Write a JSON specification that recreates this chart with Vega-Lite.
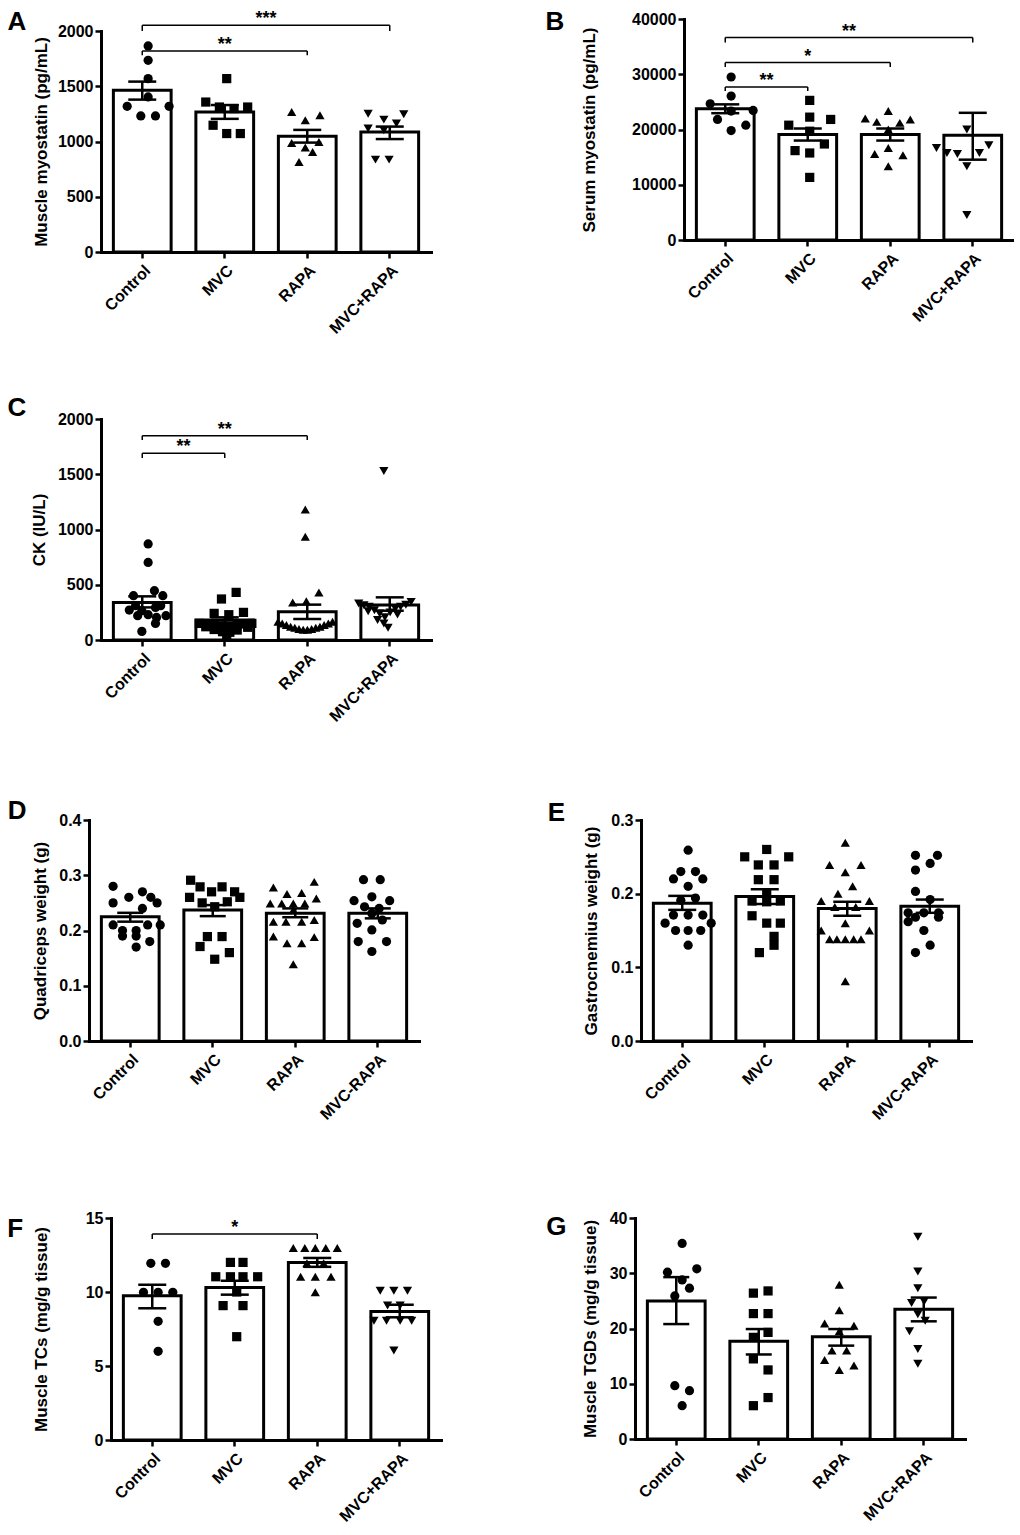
{
  "$schema": "https://vega.github.io/schema/vega-lite/v6.json",
  "padding": {"left": 6, "top": 8, "right": 0, "bottom": 0},
  "background": "white",
  "config": {
    "font": "Liberation Sans",
    "view": {"stroke": null},
    "scale": {"bandPaddingInner": 0.3, "bandPaddingOuter": 0.15},
    "range": {"symbol": ["circle", "square", "triangle-up", "triangle-down"]},
    "axis": {
      "grid": false, "domainColor": "black", "domainWidth": 3, "domainCap": "square",
      "tickColor": "black", "tickWidth": 2.5, "tickSize": 6,
      "labelColor": "black", "labelFont": "Liberation Sans", "labelFontSize": 16, "labelFontWeight": "bold",
      "titleColor": "black", "titleFont": "Liberation Sans", "titleFontSize": 17, "titleFontWeight": "bold"
    },
    "axisX": {"labelAngle": -45, "labelPadding": 4},
    "axisY": {"labelPadding": 2},
    "title": {"anchor": "start", "frame": "bounds", "font": "Liberation Sans", "fontSize": 26, "fontWeight": "bold", "color": "black", "offset": 0}
  },
  "datasets": {
    "A_pts": [
      {"g": "Control", "j": 0, "v": 1865}, {"g": "Control", "j": 0, "v": 1735}, {"g": "Control", "j": 0, "v": 1569}, {"g": "Control", "j": 0, "v": 1403},
      {"g": "Control", "j": -2, "v": 1318}, {"g": "Control", "j": 2, "v": 1318}, {"g": "Control", "j": -0.7, "v": 1231}, {"g": "Control", "j": 0.7, "v": 1231},
      {"g": "MVC", "j": 0, "v": 1569}, {"g": "MVC", "j": -2, "v": 1357}, {"g": "MVC", "j": -0.7, "v": 1312}, {"g": "MVC", "j": 0.7, "v": 1298},
      {"g": "MVC", "j": 2, "v": 1312}, {"g": "MVC", "j": -1.3, "v": 1147}, {"g": "MVC", "j": 0, "v": 1072}, {"g": "MVC", "j": 1.3, "v": 1072},
      {"g": "RAPA", "j": -1.3, "v": 1267}, {"g": "RAPA", "j": 0, "v": 1192}, {"g": "RAPA", "j": 1.4, "v": 1237}, {"g": "RAPA", "j": -1.3, "v": 987},
      {"g": "RAPA", "j": 1.3, "v": 995}, {"g": "RAPA", "j": 0, "v": 945}, {"g": "RAPA", "j": 0.7, "v": 905}, {"g": "RAPA", "j": -0.6, "v": 815},
      {"g": "MVC+RAPA", "j": -1.5, "v": 1252}, {"g": "MVC+RAPA", "j": 0, "v": 1198}, {"g": "MVC+RAPA", "j": 1.9, "v": 1246}, {"g": "MVC+RAPA", "j": -1.5, "v": 1117},
      {"g": "MVC+RAPA", "j": 1.2, "v": 1162}, {"g": "MVC+RAPA", "j": 0, "v": 1101}, {"g": "MVC+RAPA", "j": -0.8, "v": 836}, {"g": "MVC+RAPA", "j": 0.5, "v": 836}
    ],
    "A_sum": [
      {"g": "Control", "v": 1463, "lo": 1379, "hi": 1542}, {"g": "MVC", "v": 1267, "lo": 1205, "hi": 1330},
      {"g": "RAPA", "v": 1047, "lo": 990, "hi": 1105}, {"g": "MVC+RAPA", "v": 1086, "lo": 1022, "hi": 1135}
    ],
    "A_br": [
      {"from": "Control", "to": "MVC+RAPA", "v": 2051, "vb": 2000, "label": "***"},
      {"from": "Control", "to": "RAPA", "v": 1819, "vb": 1780, "label": "**"}
    ],
    "B_pts": [
      {"g": "Control", "j": 0, "v": 29500}, {"g": "Control", "j": 0, "v": 26050}, {"g": "Control", "j": -2, "v": 24660}, {"g": "Control", "j": 2.1, "v": 23450},
      {"g": "Control", "j": 0, "v": 23330}, {"g": "Control", "j": -1.3, "v": 21820}, {"g": "Control", "j": 1.4, "v": 20780}, {"g": "Control", "j": 0, "v": 19800},
      {"g": "MVC", "j": 0, "v": 25270}, {"g": "MVC", "j": 0, "v": 22240}, {"g": "MVC", "j": 2, "v": 21820}, {"g": "MVC", "j": -2, "v": 20780},
      {"g": "MVC", "j": 0, "v": 19690}, {"g": "MVC", "j": 1.4, "v": 17380}, {"g": "MVC", "j": -1.4, "v": 16180}, {"g": "MVC", "j": 0, "v": 15750},
      {"g": "MVC", "j": 0, "v": 11330},
      {"g": "RAPA", "j": -2.2, "v": 22000}, {"g": "RAPA", "j": -1.1, "v": 21380}, {"g": "RAPA", "j": 0, "v": 23330}, {"g": "RAPA", "j": 1.1, "v": 21200},
      {"g": "RAPA", "j": 2.1, "v": 21820}, {"g": "RAPA", "j": 0, "v": 20000}, {"g": "RAPA", "j": -1.3, "v": 15560}, {"g": "RAPA", "j": 0, "v": 16650},
      {"g": "RAPA", "j": 1.4, "v": 15330}, {"g": "RAPA", "j": 0, "v": 13330},
      {"g": "MVC+RAPA", "j": 0, "v": 20000}, {"g": "MVC+RAPA", "j": -2.9, "v": 16650}, {"g": "MVC+RAPA", "j": -1.9, "v": 15750}, {"g": "MVC+RAPA", "j": -0.9, "v": 15560},
      {"g": "MVC+RAPA", "j": 1.2, "v": 15750}, {"g": "MVC+RAPA", "j": 2.1, "v": 17150}, {"g": "MVC+RAPA", "j": 0, "v": 13330}, {"g": "MVC+RAPA", "j": 0, "v": 4545}
    ],
    "B_sum": [
      {"g": "Control", "v": 23750, "lo": 22950, "hi": 24550}, {"g": "MVC", "v": 19090, "lo": 18000, "hi": 20180},
      {"g": "RAPA", "v": 19090, "lo": 18000, "hi": 20180}, {"g": "MVC+RAPA", "v": 18960, "lo": 14540, "hi": 23020}
    ],
    "B_br": [
      {"from": "Control", "to": "MVC", "v": 27690, "vb": 26960, "label": "**"},
      {"from": "Control", "to": "RAPA", "v": 32110, "vb": 31320, "label": "*"},
      {"from": "Control", "to": "MVC+RAPA", "v": 36650, "vb": 35740, "label": "**"}
    ],
    "C_pts": [
      {"g": "Control", "j": 0, "v": 869}, {"g": "Control", "j": 0, "v": 702}, {"g": "Control", "j": -1.4, "v": 401}, {"g": "Control", "j": 0.6, "v": 446},
      {"g": "Control", "j": 1.4, "v": 401}, {"g": "Control", "j": -1.8, "v": 271}, {"g": "Control", "j": -0.6, "v": 265}, {"g": "Control", "j": 0.7, "v": 295},
      {"g": "Control", "j": -1, "v": 220}, {"g": "Control", "j": 0, "v": 229}, {"g": "Control", "j": 0.8, "v": 204}, {"g": "Control", "j": 1.7, "v": 220},
      {"g": "Control", "j": 0.7, "v": 150}, {"g": "Control", "j": -0.6, "v": 78}, {"g": "Control", "j": -1.2, "v": 310}, {"g": "Control", "j": 1.2, "v": 310},
      {"g": "MVC", "j": 0.9, "v": 431}, {"g": "MVC", "j": -0.5, "v": 371}, {"g": "MVC", "j": -1.2, "v": 241}, {"g": "MVC", "j": 0.2, "v": 229},
      {"g": "MVC", "j": 1.6, "v": 250}, {"g": "MVC", "j": -2.6, "v": 150}, {"g": "MVC", "j": -1.9, "v": 140}, {"g": "MVC", "j": -1.2, "v": 145},
      {"g": "MVC", "j": -0.4, "v": 125}, {"g": "MVC", "j": 0.3, "v": 120}, {"g": "MVC", "j": 1, "v": 135}, {"g": "MVC", "j": 1.7, "v": 145},
      {"g": "MVC", "j": 2.4, "v": 150}, {"g": "MVC", "j": -1.2, "v": 95}, {"g": "MVC", "j": -0.4, "v": 75}, {"g": "MVC", "j": 0.3, "v": 70},
      {"g": "MVC", "j": 1, "v": 90}, {"g": "MVC", "j": 0, "v": 30}, {"g": "MVC", "j": -2, "v": 120}, {"g": "MVC", "j": 2, "v": 115},
      {"g": "RAPA", "j": 0, "v": 1180}, {"g": "RAPA", "j": 0, "v": 935}, {"g": "RAPA", "j": 1.3, "v": 430}, {"g": "RAPA", "j": -1.2, "v": 340},
      {"g": "RAPA", "j": 0.1, "v": 350}, {"g": "RAPA", "j": -2.6, "v": 165}, {"g": "RAPA", "j": -2.2, "v": 150}, {"g": "RAPA", "j": -1.8, "v": 135},
      {"g": "RAPA", "j": -1.4, "v": 120}, {"g": "RAPA", "j": -1, "v": 110}, {"g": "RAPA", "j": -0.6, "v": 100}, {"g": "RAPA", "j": -0.2, "v": 92},
      {"g": "RAPA", "j": 0.2, "v": 92}, {"g": "RAPA", "j": 0.6, "v": 100}, {"g": "RAPA", "j": 1, "v": 110}, {"g": "RAPA", "j": 1.4, "v": 120},
      {"g": "RAPA", "j": 1.8, "v": 135}, {"g": "RAPA", "j": 2.2, "v": 150}, {"g": "RAPA", "j": 2.6, "v": 165},
      {"g": "MVC+RAPA", "j": -2.4, "v": 330}, {"g": "MVC+RAPA", "j": -1.9, "v": 315}, {"g": "MVC+RAPA", "j": -1.4, "v": 300}, {"g": "MVC+RAPA", "j": -0.9, "v": 270},
      {"g": "MVC+RAPA", "j": -0.4, "v": 240}, {"g": "MVC+RAPA", "j": 0.1, "v": 205}, {"g": "MVC+RAPA", "j": 0.6, "v": 250}, {"g": "MVC+RAPA", "j": 1.1, "v": 285},
      {"g": "MVC+RAPA", "j": 1.6, "v": 300}, {"g": "MVC+RAPA", "j": 2.1, "v": 320}, {"g": "MVC+RAPA", "j": 2.6, "v": 345}, {"g": "MVC+RAPA", "j": 0, "v": 150},
      {"g": "MVC+RAPA", "j": 0.4, "v": 110}, {"g": "MVC+RAPA", "j": -0.6, "v": 180}, {"g": "MVC+RAPA", "j": 1.3, "v": 230}, {"g": "MVC+RAPA", "j": -1.5, "v": 260},
      {"g": "MVC+RAPA", "j": 0, "v": 1530}
    ],
    "C_sum": [
      {"g": "Control", "v": 340, "lo": 295, "hi": 395}, {"g": "MVC", "v": 181, "lo": 158, "hi": 205},
      {"g": "RAPA", "v": 256, "lo": 190, "hi": 320}, {"g": "MVC+RAPA", "v": 316, "lo": 265, "hi": 386}
    ],
    "C_br": [
      {"from": "Control", "to": "MVC", "v": 1689, "vb": 1647, "label": "**"},
      {"from": "Control", "to": "RAPA", "v": 1849, "vb": 1810, "label": "**"}
    ],
    "D_pts": [
      {"g": "Control", "j": -2.2, "v": 0.28}, {"g": "Control", "j": -2.2, "v": 0.25}, {"g": "Control", "j": -0.7, "v": 0.26}, {"g": "Control", "j": 0.6, "v": 0.27},
      {"g": "Control", "j": 1.4, "v": 0.26}, {"g": "Control", "j": 2, "v": 0.25}, {"g": "Control", "j": 0.6, "v": 0.24}, {"g": "Control", "j": -2.2, "v": 0.21},
      {"g": "Control", "j": 2.3, "v": 0.21}, {"g": "Control", "j": -1.3, "v": 0.2}, {"g": "Control", "j": 0, "v": 0.2}, {"g": "Control", "j": 1.1, "v": 0.21},
      {"g": "Control", "j": -1.3, "v": 0.19}, {"g": "Control", "j": 0, "v": 0.19}, {"g": "Control", "j": 1.3, "v": 0.18}, {"g": "Control", "j": 0, "v": 0.17},
      {"g": "MVC", "j": -2.3, "v": 0.291}, {"g": "MVC", "j": -1.4, "v": 0.279}, {"g": "MVC", "j": -0.3, "v": 0.27}, {"g": "MVC", "j": 0.7, "v": 0.279},
      {"g": "MVC", "j": 1.9, "v": 0.27}, {"g": "MVC", "j": -2.4, "v": 0.26}, {"g": "MVC", "j": -1.2, "v": 0.25}, {"g": "MVC", "j": 0, "v": 0.243},
      {"g": "MVC", "j": 1.2, "v": 0.252}, {"g": "MVC", "j": 2.4, "v": 0.26}, {"g": "MVC", "j": -0.7, "v": 0.189}, {"g": "MVC", "j": 0.7, "v": 0.189},
      {"g": "MVC", "j": -1.4, "v": 0.171}, {"g": "MVC", "j": 1.4, "v": 0.16}, {"g": "MVC", "j": 0, "v": 0.148},
      {"g": "RAPA", "j": -1.9, "v": 0.278}, {"g": "RAPA", "j": -0.6, "v": 0.266}, {"g": "RAPA", "j": 0.8, "v": 0.268}, {"g": "RAPA", "j": 2, "v": 0.288},
      {"g": "RAPA", "j": -2.2, "v": 0.249}, {"g": "RAPA", "j": -1.1, "v": 0.249}, {"g": "RAPA", "j": 0, "v": 0.249}, {"g": "RAPA", "j": 1.1, "v": 0.249},
      {"g": "RAPA", "j": 2.2, "v": 0.258}, {"g": "RAPA", "j": 0, "v": 0.237}, {"g": "RAPA", "j": -1.9, "v": 0.216}, {"g": "RAPA", "j": -0.7, "v": 0.216},
      {"g": "RAPA", "j": 0.8, "v": 0.216}, {"g": "RAPA", "j": 2, "v": 0.219}, {"g": "RAPA", "j": -1.9, "v": 0.189}, {"g": "RAPA", "j": -0.6, "v": 0.177},
      {"g": "RAPA", "j": 0.8, "v": 0.177}, {"g": "RAPA", "j": 2, "v": 0.188}, {"g": "RAPA", "j": 0, "v": 0.139},
      {"g": "MVC-RAPA", "j": -0.8, "v": 0.292}, {"g": "MVC-RAPA", "j": 0.8, "v": 0.292}, {"g": "MVC-RAPA", "j": -1.7, "v": 0.254}, {"g": "MVC-RAPA", "j": 0, "v": 0.261},
      {"g": "MVC-RAPA", "j": 1.7, "v": 0.254}, {"g": "MVC-RAPA", "j": -0.7, "v": 0.243}, {"g": "MVC-RAPA", "j": 0.7, "v": 0.24}, {"g": "MVC-RAPA", "j": 0, "v": 0.231},
      {"g": "MVC-RAPA", "j": -1.4, "v": 0.213}, {"g": "MVC-RAPA", "j": 1, "v": 0.219}, {"g": "MVC-RAPA", "j": 0, "v": 0.201}, {"g": "MVC-RAPA", "j": -1.3, "v": 0.18},
      {"g": "MVC-RAPA", "j": 1.4, "v": 0.18}, {"g": "MVC-RAPA", "j": 0, "v": 0.162}
    ],
    "D_sum": [
      {"g": "Control", "v": 0.225, "lo": 0.216, "hi": 0.232}, {"g": "MVC", "v": 0.237, "lo": 0.226, "hi": 0.246},
      {"g": "RAPA", "v": 0.231, "lo": 0.224, "hi": 0.24}, {"g": "MVC-RAPA", "v": 0.231, "lo": 0.222, "hi": 0.24}
    ],
    "E_pts": [
      {"g": "Control", "j": 0, "v": 0.259}, {"g": "Control", "j": -0.7, "v": 0.23}, {"g": "Control", "j": 0.7, "v": 0.23}, {"g": "Control", "j": -1.4, "v": 0.22},
      {"g": "Control", "j": 1.4, "v": 0.22}, {"g": "Control", "j": 0, "v": 0.21}, {"g": "Control", "j": -0.7, "v": 0.191}, {"g": "Control", "j": 0.7, "v": 0.194},
      {"g": "Control", "j": -1.4, "v": 0.171}, {"g": "Control", "j": 0, "v": 0.171}, {"g": "Control", "j": 1.4, "v": 0.171}, {"g": "Control", "j": -2.2, "v": 0.16},
      {"g": "Control", "j": 2.2, "v": 0.16}, {"g": "Control", "j": -1.2, "v": 0.15}, {"g": "Control", "j": 0, "v": 0.15}, {"g": "Control", "j": 1.2, "v": 0.15},
      {"g": "Control", "j": 0, "v": 0.13},
      {"g": "MVC", "j": 0, "v": 0.26}, {"g": "MVC", "j": -2.1, "v": 0.25}, {"g": "MVC", "j": 2.1, "v": 0.25}, {"g": "MVC", "j": -0.8, "v": 0.239},
      {"g": "MVC", "j": 0.7, "v": 0.239}, {"g": "MVC", "j": -0.8, "v": 0.219}, {"g": "MVC", "j": 0.7, "v": 0.219}, {"g": "MVC", "j": 0, "v": 0.2},
      {"g": "MVC", "j": -1.4, "v": 0.19}, {"g": "MVC", "j": 0, "v": 0.189}, {"g": "MVC", "j": 1.3, "v": 0.19}, {"g": "MVC", "j": -1.4, "v": 0.17},
      {"g": "MVC", "j": 1.3, "v": 0.16}, {"g": "MVC", "j": 0, "v": 0.16}, {"g": "MVC", "j": 0.7, "v": 0.142}, {"g": "MVC", "j": 0.7, "v": 0.13},
      {"g": "MVC", "j": -0.7, "v": 0.12},
      {"g": "RAPA", "j": 0, "v": 0.269}, {"g": "RAPA", "j": -1.5, "v": 0.239}, {"g": "RAPA", "j": 1.5, "v": 0.239}, {"g": "RAPA", "j": 0, "v": 0.229},
      {"g": "RAPA", "j": 0.7, "v": 0.21}, {"g": "RAPA", "j": -0.7, "v": 0.2}, {"g": "RAPA", "j": -2.3, "v": 0.19}, {"g": "RAPA", "j": 2.3, "v": 0.19},
      {"g": "RAPA", "j": -1, "v": 0.182}, {"g": "RAPA", "j": 1, "v": 0.182}, {"g": "RAPA", "j": 0, "v": 0.16}, {"g": "RAPA", "j": -2.3, "v": 0.15},
      {"g": "RAPA", "j": 2.3, "v": 0.15}, {"g": "RAPA", "j": -1.5, "v": 0.138}, {"g": "RAPA", "j": -0.8, "v": 0.138}, {"g": "RAPA", "j": 0, "v": 0.138},
      {"g": "RAPA", "j": 0.8, "v": 0.138}, {"g": "RAPA", "j": 1.5, "v": 0.138}, {"g": "RAPA", "j": 0, "v": 0.081},
      {"g": "MVC-RAPA", "j": -0.8, "v": 0.252}, {"g": "MVC-RAPA", "j": 1.3, "v": 0.252}, {"g": "MVC-RAPA", "j": -0.8, "v": 0.232}, {"g": "MVC-RAPA", "j": 0.6, "v": 0.241},
      {"g": "MVC-RAPA", "j": -0.8, "v": 0.203}, {"g": "MVC-RAPA", "j": 0.6, "v": 0.192}, {"g": "MVC-RAPA", "j": -1.5, "v": 0.174}, {"g": "MVC-RAPA", "j": 0, "v": 0.174},
      {"g": "MVC-RAPA", "j": 1.4, "v": 0.174}, {"g": "MVC-RAPA", "j": -1.5, "v": 0.162}, {"g": "MVC-RAPA", "j": 0, "v": 0.15}, {"g": "MVC-RAPA", "j": -0.8, "v": 0.12},
      {"g": "MVC-RAPA", "j": 0.6, "v": 0.13}, {"g": "MVC-RAPA", "j": 1.4, "v": 0.168}, {"g": "MVC-RAPA", "j": -0.8, "v": 0.168}
    ],
    "E_sum": [
      {"g": "Control", "v": 0.187, "lo": 0.178, "hi": 0.197}, {"g": "MVC", "v": 0.196, "lo": 0.186, "hi": 0.206},
      {"g": "RAPA", "v": 0.18, "lo": 0.17, "hi": 0.189}, {"g": "MVC-RAPA", "v": 0.183, "lo": 0.174, "hi": 0.192}
    ],
    "F_pts": [
      {"g": "Control", "j": -0.7, "v": 11.94}, {"g": "Control", "j": 0.7, "v": 11.94}, {"g": "Control", "j": -1.4, "v": 9.98}, {"g": "Control", "j": 0, "v": 9.98},
      {"g": "Control", "j": 1.4, "v": 9.98}, {"g": "Control", "j": 0, "v": 8.02}, {"g": "Control", "j": 0, "v": 5.99},
      {"g": "MVC", "j": -0.6, "v": 12}, {"g": "MVC", "j": 0.6, "v": 12}, {"g": "MVC", "j": -2, "v": 11.03}, {"g": "MVC", "j": -0.6, "v": 11.03},
      {"g": "MVC", "j": 0.6, "v": 11.03}, {"g": "MVC", "j": 2, "v": 11.03}, {"g": "MVC", "j": 0, "v": 10}, {"g": "MVC", "j": -1.3, "v": 9.08},
      {"g": "MVC", "j": 0.6, "v": 9.08}, {"g": "MVC", "j": 0, "v": 6.98},
      {"g": "RAPA", "j": -2.1, "v": 12.97}, {"g": "RAPA", "j": -1, "v": 12.97}, {"g": "RAPA", "j": 0, "v": 12.97}, {"g": "RAPA", "j": 1, "v": 12.97},
      {"g": "RAPA", "j": 2.1, "v": 12.97}, {"g": "RAPA", "j": -0.8, "v": 11.94}, {"g": "RAPA", "j": 0.8, "v": 11.94}, {"g": "RAPA", "j": -1.4, "v": 11.03},
      {"g": "RAPA", "j": 0, "v": 11.03}, {"g": "RAPA", "j": 1.5, "v": 11.03}, {"g": "RAPA", "j": 0, "v": 9.98},
      {"g": "MVC+RAPA", "j": -1.3, "v": 10.09}, {"g": "MVC+RAPA", "j": 0, "v": 10.09}, {"g": "MVC+RAPA", "j": 1.3, "v": 10.09}, {"g": "MVC+RAPA", "j": -0.6, "v": 9.08},
      {"g": "MVC+RAPA", "j": 0.6, "v": 9.08}, {"g": "MVC+RAPA", "j": -1.9, "v": 8.06}, {"g": "MVC+RAPA", "j": -0.7, "v": 8.06}, {"g": "MVC+RAPA", "j": 0.6, "v": 8.06},
      {"g": "MVC+RAPA", "j": 1.7, "v": 8.06}, {"g": "MVC+RAPA", "j": 0, "v": 6.04}
    ],
    "F_sum": [
      {"g": "Control", "v": 9.75, "lo": 8.9, "hi": 10.49}, {"g": "MVC", "v": 10.31, "lo": 9.82, "hi": 10.76},
      {"g": "RAPA", "v": 12, "lo": 11.7, "hi": 12.3}, {"g": "MVC+RAPA", "v": 8.69, "lo": 8.29, "hi": 9.14}
    ],
    "F_br": [
      {"from": "Control", "to": "RAPA", "v": 13.92, "vb": 13.58, "label": "*"}
    ],
    "G_pts": [
      {"g": "Control", "j": 0, "v": 35.4}, {"g": "Control", "j": -1.4, "v": 30.2}, {"g": "Control", "j": 1.4, "v": 30.8}, {"g": "Control", "j": 0, "v": 28.8},
      {"g": "Control", "j": 0.7, "v": 27.3}, {"g": "Control", "j": -0.7, "v": 25.9}, {"g": "Control", "j": -0.7, "v": 9.65}, {"g": "Control", "j": 0.7, "v": 8.75},
      {"g": "Control", "j": 0, "v": 6.03},
      {"g": "MVC", "j": -0.7, "v": 26.4}, {"g": "MVC", "j": 0.7, "v": 26.8}, {"g": "MVC", "j": -0.7, "v": 22.7}, {"g": "MVC", "j": 0.7, "v": 22.7},
      {"g": "MVC", "j": 0.7, "v": 19.3}, {"g": "MVC", "j": -0.7, "v": 18.4}, {"g": "MVC", "j": -0.7, "v": 14.5}, {"g": "MVC", "j": 0.7, "v": 12.5},
      {"g": "MVC", "j": 0.7, "v": 7.5}, {"g": "MVC", "j": -0.7, "v": 6.03},
      {"g": "RAPA", "j": 0, "v": 27.9}, {"g": "RAPA", "j": 0, "v": 23.3}, {"g": "RAPA", "j": -1.4, "v": 20.9}, {"g": "RAPA", "j": 1.4, "v": 20.5},
      {"g": "RAPA", "j": 0, "v": 19.5}, {"g": "RAPA", "j": 0.7, "v": 16}, {"g": "RAPA", "j": -0.7, "v": 16}, {"g": "RAPA", "j": -1.4, "v": 14.3},
      {"g": "RAPA", "j": 1.4, "v": 13.3}, {"g": "RAPA", "j": 0, "v": 12.5},
      {"g": "MVC+RAPA", "j": 0, "v": 36.6}, {"g": "MVC+RAPA", "j": 0, "v": 30.3}, {"g": "MVC+RAPA", "j": 0, "v": 27.3}, {"g": "MVC+RAPA", "j": -0.6, "v": 24.6},
      {"g": "MVC+RAPA", "j": 0.6, "v": 24.9}, {"g": "MVC+RAPA", "j": 0, "v": 22.6}, {"g": "MVC+RAPA", "j": 0.7, "v": 21.4}, {"g": "MVC+RAPA", "j": -0.8, "v": 19.5},
      {"g": "MVC+RAPA", "j": 0, "v": 16.3}, {"g": "MVC+RAPA", "j": 0, "v": 13.6}
    ],
    "G_sum": [
      {"g": "Control", "v": 25, "lo": 20.8, "hi": 29.3}, {"g": "MVC", "v": 17.7, "lo": 15.3, "hi": 19.9},
      {"g": "RAPA", "v": 18.5, "lo": 16.9, "hi": 19.9}, {"g": "MVC+RAPA", "v": 23.5, "lo": 21.3, "hi": 25.6}
    ]
  },
  "concat": [
    {
      "columns": 2, "spacing": 0, "align": "none",
      "concat": [
        {"width": 1, "height": 1, "data": {"values": []}, "mark": {"type": "point", "opacity": 0}},
        {
          "columns": 2, "spacing": 114, "align": "none",
          "concat": [
            {
              "columns": 1, "spacing": 0, "align": "none",
              "concat": [
                {"width": 1, "height": 1, "data": {"values": []}, "mark": {"type": "point", "opacity": 0}},
                {
                  "width": 330, "height": 221,
                  "title": {"text": "A", "dx": -25, "dy": 29},
                  "layer": [
                    {
                      "encoding": {
                        "x": {"field": "g", "type": "nominal", "scale": {"domain": ["Control", "MVC", "RAPA", "MVC+RAPA"]}, "title": null},
                        "y": {"field": "v", "type": "quantitative", "scale": {"domain": [0, 2000], "nice": false}, "axis": {"values": [0, 500, 1000, 1500, 2000], "format": "d", "titlePadding": 7}, "title": "Muscle myostatin (pg/mL)"}
                      },
                      "layer": [
                        {"data": {"name": "A_sum"}, "mark": {"type": "bar", "fill": "white", "stroke": "black", "strokeWidth": 3}},
                        {"data": {"name": "A_sum"}, "mark": {"type": "rule", "color": "black", "strokeWidth": 2.5},
                          "encoding": {"y": {"field": "lo", "type": "quantitative", "title": "Muscle myostatin (pg/mL)"}, "y2": {"field": "hi"}}},
                        {"data": {"name": "A_sum"}, "transform": [{"fold": ["lo", "hi"], "as": ["k", "e"]}], "mark": {"type": "tick", "orient": "horizontal", "size": 28, "thickness": 2.5, "color": "black", "opacity": 1},
                          "encoding": {"y": {"field": "e", "type": "quantitative", "title": "Muscle myostatin (pg/mL)"}}},
                        {"data": {"name": "A_br"}, "mark": {"type": "rule", "color": "black", "strokeWidth": 1.5},
                          "encoding": {"x": {"field": "from", "type": "nominal", "title": null}, "x2": {"field": "to"}}},
                        {"data": {"name": "A_br"}, "transform": [{"fold": ["from", "to"], "as": ["k", "gx"]}], "mark": {"type": "rule", "color": "black", "strokeWidth": 1.5},
                          "encoding": {"x": {"field": "gx", "type": "nominal", "title": null}, "y2": {"field": "vb"}}}
                      ]
                    },
                    {
                      "data": {"name": "A_pts"},
                      "mark": {"type": "point", "filled": true, "color": "black", "opacity": 1, "size": 85},
                      "encoding": {
                        "x": {"field": "g", "type": "nominal", "scale": {"domain": ["Control", "MVC", "RAPA", "MVC+RAPA"]}, "axis": null},
                        "xOffset": {"field": "j", "type": "quantitative", "scale": {"domain": [-3, 3]}},
                        "y": {"field": "v", "type": "quantitative", "title": "Muscle myostatin (pg/mL)"},
                        "shape": {"field": "g", "type": "nominal", "scale": {"domain": ["Control", "MVC", "RAPA", "MVC+RAPA"]}, "legend": null}
                      }
                    },
                    {
                      "data": {"name": "A_br"},
                      "transform": [{"calculate": "(indexof(['Control','MVC','RAPA','MVC+RAPA'], datum.from) + indexof(['Control','MVC','RAPA','MVC+RAPA'], datum.to)) / 2 + 0.5", "as": "mid"}],
                      "mark": {"type": "text", "font": "Liberation Sans", "fontSize": 18, "fontWeight": "bold", "baseline": "alphabetic", "dy": -1, "color": "black"},
                      "encoding": {
                        "x": {"field": "mid", "type": "quantitative", "scale": {"domain": [0, 4]}, "axis": null},
                        "y": {"field": "v", "type": "quantitative", "title": "Muscle myostatin (pg/mL)"},
                        "text": {"field": "label"}
                      }
                    }
                  ],
                  "resolve": {"scale": {"x": "independent", "xOffset": "independent"}}
                }
              ]
            },
            {
              "columns": 1, "spacing": 0, "align": "none",
              "concat": [
                {"width": 1, "height": 1, "data": {"values": []}, "mark": {"type": "point", "opacity": 0}},
                {
                  "width": 330, "height": 221,
                  "title": {"text": "B", "dx": -35, "dy": 28},
                  "layer": [
                    {
                      "encoding": {
                        "x": {"field": "g", "type": "nominal", "scale": {"domain": ["Control", "MVC", "RAPA", "MVC+RAPA"]}, "title": null},
                        "y": {"field": "v", "type": "quantitative", "scale": {"domain": [0, 40000], "nice": false}, "axis": {"values": [0, 10000, 20000, 30000, 40000], "format": "d", "titlePadding": 33}, "title": "Serum myostatin (pg/mL)"}
                      },
                      "layer": [
                        {"data": {"name": "B_sum"}, "mark": {"type": "bar", "fill": "white", "stroke": "black", "strokeWidth": 3}},
                        {"data": {"name": "B_sum"}, "mark": {"type": "rule", "color": "black", "strokeWidth": 2.5},
                          "encoding": {"y": {"field": "lo", "type": "quantitative", "title": "Serum myostatin (pg/mL)"}, "y2": {"field": "hi"}}},
                        {"data": {"name": "B_sum"}, "transform": [{"fold": ["lo", "hi"], "as": ["k", "e"]}], "mark": {"type": "tick", "orient": "horizontal", "size": 28, "thickness": 2.5, "color": "black", "opacity": 1},
                          "encoding": {"y": {"field": "e", "type": "quantitative", "title": "Serum myostatin (pg/mL)"}}},
                        {"data": {"name": "B_br"}, "mark": {"type": "rule", "color": "black", "strokeWidth": 1.5},
                          "encoding": {"x": {"field": "from", "type": "nominal", "title": null}, "x2": {"field": "to"}}},
                        {"data": {"name": "B_br"}, "transform": [{"fold": ["from", "to"], "as": ["k", "gx"]}], "mark": {"type": "rule", "color": "black", "strokeWidth": 1.5},
                          "encoding": {"x": {"field": "gx", "type": "nominal", "title": null}, "y2": {"field": "vb"}}}
                      ]
                    },
                    {
                      "data": {"name": "B_pts"},
                      "mark": {"type": "point", "filled": true, "color": "black", "opacity": 1, "size": 85},
                      "encoding": {
                        "x": {"field": "g", "type": "nominal", "scale": {"domain": ["Control", "MVC", "RAPA", "MVC+RAPA"]}, "axis": null},
                        "xOffset": {"field": "j", "type": "quantitative", "scale": {"domain": [-3, 3]}},
                        "y": {"field": "v", "type": "quantitative", "title": "Serum myostatin (pg/mL)"},
                        "shape": {"field": "g", "type": "nominal", "scale": {"domain": ["Control", "MVC", "RAPA", "MVC+RAPA"]}, "legend": null}
                      }
                    },
                    {
                      "data": {"name": "B_br"},
                      "transform": [{"calculate": "(indexof(['Control','MVC','RAPA','MVC+RAPA'], datum.from) + indexof(['Control','MVC','RAPA','MVC+RAPA'], datum.to)) / 2 + 0.5", "as": "mid"}],
                      "mark": {"type": "text", "font": "Liberation Sans", "fontSize": 18, "fontWeight": "bold", "baseline": "alphabetic", "dy": -1, "color": "black"},
                      "encoding": {
                        "x": {"field": "mid", "type": "quantitative", "scale": {"domain": [0, 4]}, "axis": null},
                        "y": {"field": "v", "type": "quantitative", "title": "Serum myostatin (pg/mL)"},
                        "text": {"field": "label"}
                      }
                    }
                  ],
                  "resolve": {"scale": {"x": "independent", "xOffset": "independent"}}
                }
              ]
            }
          ]
        }
      ]
    },
    {
      "columns": 1, "spacing": 73, "align": "none",
      "concat": [
        {
          "columns": 2, "spacing": 0, "align": "none",
          "concat": [
            {"width": 1, "height": 1, "data": {"values": []}, "mark": {"type": "point", "opacity": 0}},
            {
              "width": 330, "height": 221,
              "title": {"text": "C", "dx": -23, "dy": 14},
              "layer": [
                {
                  "encoding": {
                    "x": {"field": "g", "type": "nominal", "scale": {"domain": ["Control", "MVC", "RAPA", "MVC+RAPA"]}, "title": null},
                    "y": {"field": "v", "type": "quantitative", "scale": {"domain": [0, 2000], "nice": false}, "axis": {"values": [0, 500, 1000, 1500, 2000], "format": "d", "titlePadding": 9}, "title": "CK (IU/L)"}
                  },
                  "layer": [
                    {"data": {"name": "C_sum"}, "mark": {"type": "bar", "fill": "white", "stroke": "black", "strokeWidth": 3}},
                    {"data": {"name": "C_sum"}, "mark": {"type": "rule", "color": "black", "strokeWidth": 2.5},
                      "encoding": {"y": {"field": "lo", "type": "quantitative", "title": "CK (IU/L)"}, "y2": {"field": "hi"}}},
                    {"data": {"name": "C_sum"}, "transform": [{"fold": ["lo", "hi"], "as": ["k", "e"]}], "mark": {"type": "tick", "orient": "horizontal", "size": 28, "thickness": 2.5, "color": "black", "opacity": 1},
                      "encoding": {"y": {"field": "e", "type": "quantitative", "title": "CK (IU/L)"}}},
                    {"data": {"name": "C_br"}, "mark": {"type": "rule", "color": "black", "strokeWidth": 1.5},
                      "encoding": {"x": {"field": "from", "type": "nominal", "title": null}, "x2": {"field": "to"}}},
                    {"data": {"name": "C_br"}, "transform": [{"fold": ["from", "to"], "as": ["k", "gx"]}], "mark": {"type": "rule", "color": "black", "strokeWidth": 1.5},
                      "encoding": {"x": {"field": "gx", "type": "nominal", "title": null}, "y2": {"field": "vb"}}}
                  ]
                },
                {
                  "data": {"name": "C_pts"},
                  "mark": {"type": "point", "filled": true, "color": "black", "opacity": 1, "size": 85},
                  "encoding": {
                    "x": {"field": "g", "type": "nominal", "scale": {"domain": ["Control", "MVC", "RAPA", "MVC+RAPA"]}, "axis": null},
                    "xOffset": {"field": "j", "type": "quantitative", "scale": {"domain": [-3, 3]}},
                    "y": {"field": "v", "type": "quantitative", "title": "CK (IU/L)"},
                    "shape": {"field": "g", "type": "nominal", "scale": {"domain": ["Control", "MVC", "RAPA", "MVC+RAPA"]}, "legend": null}
                  }
                },
                {
                  "data": {"name": "C_br"},
                  "transform": [{"calculate": "(indexof(['Control','MVC','RAPA','MVC+RAPA'], datum.from) + indexof(['Control','MVC','RAPA','MVC+RAPA'], datum.to)) / 2 + 0.5", "as": "mid"}],
                  "mark": {"type": "text", "font": "Liberation Sans", "fontSize": 18, "fontWeight": "bold", "baseline": "alphabetic", "dy": -1, "color": "black"},
                  "encoding": {
                    "x": {"field": "mid", "type": "quantitative", "scale": {"domain": [0, 4]}, "axis": null},
                    "y": {"field": "v", "type": "quantitative", "title": "CK (IU/L)"},
                    "text": {"field": "label"}
                  }
                }
              ],
              "resolve": {"scale": {"x": "independent", "xOffset": "independent"}}
            }
          ]
        },
        {
          "columns": 1, "spacing": 87, "align": "none",
          "concat": [
            {
              "columns": 2, "spacing": 0, "align": "none",
              "concat": [
                {"width": 1, "height": 1, "data": {"values": []}, "mark": {"type": "point", "opacity": 0}},
                {
                  "columns": 2, "spacing": 128, "align": "none",
                  "concat": [
                    {
                      "width": 330, "height": 221,
                      "title": {"text": "D", "dx": -24, "dy": 16},
                      "layer": [
                        {
                          "encoding": {
                            "x": {"field": "g", "type": "nominal", "scale": {"domain": ["Control", "MVC", "RAPA", "MVC-RAPA"]}, "title": null},
                            "y": {"field": "v", "type": "quantitative", "scale": {"domain": [0, 0.4], "nice": false}, "axis": {"values": [0, 0.1, 0.2, 0.3, 0.4], "format": ".1f", "titlePadding": 9}, "title": "Quadriceps weight (g)"}
                          },
                          "layer": [
                            {"data": {"name": "D_sum"}, "mark": {"type": "bar", "fill": "white", "stroke": "black", "strokeWidth": 3}},
                            {"data": {"name": "D_sum"}, "mark": {"type": "rule", "color": "black", "strokeWidth": 2.5},
                              "encoding": {"y": {"field": "lo", "type": "quantitative", "title": "Quadriceps weight (g)"}, "y2": {"field": "hi"}}},
                            {"data": {"name": "D_sum"}, "transform": [{"fold": ["lo", "hi"], "as": ["k", "e"]}], "mark": {"type": "tick", "orient": "horizontal", "size": 26, "thickness": 2.5, "color": "black", "opacity": 1},
                              "encoding": {"y": {"field": "e", "type": "quantitative", "title": "Quadriceps weight (g)"}}}
                          ]
                        },
                        {
                          "data": {"name": "D_pts"},
                          "mark": {"type": "point", "filled": true, "color": "black", "opacity": 1, "size": 85},
                          "encoding": {
                            "x": {"field": "g", "type": "nominal", "scale": {"domain": ["Control", "MVC", "RAPA", "MVC-RAPA"]}, "axis": null},
                            "xOffset": {"field": "j", "type": "quantitative", "scale": {"domain": [-3, 3]}},
                            "y": {"field": "v", "type": "quantitative", "title": "Quadriceps weight (g)"},
                            "shape": {"field": "g", "type": "nominal", "scale": {"domain": ["Control", "MVC", "RAPA", "MVC-RAPA"]}, "legend": null}
                          }
                        }
                      ],
                      "resolve": {"scale": {"x": "independent", "xOffset": "independent"}}
                    },
                    {
                      "width": 330, "height": 221,
                      "title": {"text": "E", "dx": -35, "dy": 18},
                      "layer": [
                        {
                          "encoding": {
                            "x": {"field": "g", "type": "nominal", "scale": {"domain": ["Control", "MVC", "RAPA", "MVC-RAPA"]}, "title": null},
                            "y": {"field": "v", "type": "quantitative", "scale": {"domain": [0, 0.3], "nice": false}, "axis": {"values": [0, 0.1, 0.2, 0.3], "format": ".1f", "titlePadding": 10}, "title": "Gastrocnemius weight (g)"}
                          },
                          "layer": [
                            {"data": {"name": "E_sum"}, "mark": {"type": "bar", "fill": "white", "stroke": "black", "strokeWidth": 3}},
                            {"data": {"name": "E_sum"}, "mark": {"type": "rule", "color": "black", "strokeWidth": 2.5},
                              "encoding": {"y": {"field": "lo", "type": "quantitative", "title": "Gastrocnemius weight (g)"}, "y2": {"field": "hi"}}},
                            {"data": {"name": "E_sum"}, "transform": [{"fold": ["lo", "hi"], "as": ["k", "e"]}], "mark": {"type": "tick", "orient": "horizontal", "size": 28, "thickness": 2.5, "color": "black", "opacity": 1},
                              "encoding": {"y": {"field": "e", "type": "quantitative", "title": "Gastrocnemius weight (g)"}}}
                          ]
                        },
                        {
                          "data": {"name": "E_pts"},
                          "mark": {"type": "point", "filled": true, "color": "black", "opacity": 1, "size": 85},
                          "encoding": {
                            "x": {"field": "g", "type": "nominal", "scale": {"domain": ["Control", "MVC", "RAPA", "MVC-RAPA"]}, "axis": null},
                            "xOffset": {"field": "j", "type": "quantitative", "scale": {"domain": [-3, 3]}},
                            "y": {"field": "v", "type": "quantitative", "title": "Gastrocnemius weight (g)"},
                            "shape": {"field": "g", "type": "nominal", "scale": {"domain": ["Control", "MVC", "RAPA", "MVC-RAPA"]}, "legend": null}
                          }
                        }
                      ],
                      "resolve": {"scale": {"x": "independent", "xOffset": "independent"}}
                    }
                  ]
                }
              ]
            },
            {
              "columns": 2, "spacing": 0, "align": "none",
              "concat": [
                {"width": 1, "height": 1, "data": {"values": []}, "mark": {"type": "point", "opacity": 0}},
                {
                  "columns": 2, "spacing": 105, "align": "none",
                  "concat": [
                    {
                      "width": 330, "height": 222,
                      "title": {"text": "F", "dx": -25, "dy": 36},
                      "layer": [
                        {
                          "encoding": {
                            "x": {"field": "g", "type": "nominal", "scale": {"domain": ["Control", "MVC", "RAPA", "MVC+RAPA"]}, "title": null},
                            "y": {"field": "v", "type": "quantitative", "scale": {"domain": [0, 15], "nice": false}, "axis": {"values": [0, 5, 10, 15], "format": "d", "titlePadding": 35}, "title": "Muscle TCs (mg/g tissue)"}
                          },
                          "layer": [
                            {"data": {"name": "F_sum"}, "mark": {"type": "bar", "fill": "white", "stroke": "black", "strokeWidth": 3}},
                            {"data": {"name": "F_sum"}, "mark": {"type": "rule", "color": "black", "strokeWidth": 2.5},
                              "encoding": {"y": {"field": "lo", "type": "quantitative", "title": "Muscle TCs (mg/g tissue)"}, "y2": {"field": "hi"}}},
                            {"data": {"name": "F_sum"}, "transform": [{"fold": ["lo", "hi"], "as": ["k", "e"]}], "mark": {"type": "tick", "orient": "horizontal", "size": 28, "thickness": 2.5, "color": "black", "opacity": 1},
                              "encoding": {"y": {"field": "e", "type": "quantitative", "title": "Muscle TCs (mg/g tissue)"}}},
                            {"data": {"name": "F_br"}, "mark": {"type": "rule", "color": "black", "strokeWidth": 1.5},
                              "encoding": {"x": {"field": "from", "type": "nominal", "title": null}, "x2": {"field": "to"}}},
                            {"data": {"name": "F_br"}, "transform": [{"fold": ["from", "to"], "as": ["k", "gx"]}], "mark": {"type": "rule", "color": "black", "strokeWidth": 1.5},
                              "encoding": {"x": {"field": "gx", "type": "nominal", "title": null}, "y2": {"field": "vb"}}}
                          ]
                        },
                        {
                          "data": {"name": "F_pts"},
                          "mark": {"type": "point", "filled": true, "color": "black", "opacity": 1, "size": 85},
                          "encoding": {
                            "x": {"field": "g", "type": "nominal", "scale": {"domain": ["Control", "MVC", "RAPA", "MVC+RAPA"]}, "axis": null},
                            "xOffset": {"field": "j", "type": "quantitative", "scale": {"domain": [-3, 3]}},
                            "y": {"field": "v", "type": "quantitative", "title": "Muscle TCs (mg/g tissue)"},
                            "shape": {"field": "g", "type": "nominal", "scale": {"domain": ["Control", "MVC", "RAPA", "MVC+RAPA"]}, "legend": null}
                          }
                        },
                        {
                          "data": {"name": "F_br"},
                          "transform": [{"calculate": "(indexof(['Control','MVC','RAPA','MVC+RAPA'], datum.from) + indexof(['Control','MVC','RAPA','MVC+RAPA'], datum.to)) / 2 + 0.5", "as": "mid"}],
                          "mark": {"type": "text", "font": "Liberation Sans", "fontSize": 18, "fontWeight": "bold", "baseline": "alphabetic", "dy": -1, "color": "black"},
                          "encoding": {
                            "x": {"field": "mid", "type": "quantitative", "scale": {"domain": [0, 4]}, "axis": null},
                            "y": {"field": "v", "type": "quantitative", "title": "Muscle TCs (mg/g tissue)"},
                            "text": {"field": "label"}
                          }
                        }
                      ],
                      "resolve": {"scale": {"x": "independent", "xOffset": "independent"}}
                    },
                    {
                      "width": 330, "height": 221,
                      "title": {"text": "G", "dx": -35, "dy": 34},
                      "layer": [
                        {
                          "encoding": {
                            "x": {"field": "g", "type": "nominal", "scale": {"domain": ["Control", "MVC", "RAPA", "MVC+RAPA"]}, "title": null},
                            "y": {"field": "v", "type": "quantitative", "scale": {"domain": [0, 40], "nice": false}, "axis": {"values": [0, 10, 20, 30, 40], "format": "d", "titlePadding": 10}, "title": "Muscle TGDs (mg/g tissue)"}
                          },
                          "layer": [
                            {"data": {"name": "G_sum"}, "mark": {"type": "bar", "fill": "white", "stroke": "black", "strokeWidth": 3}},
                            {"data": {"name": "G_sum"}, "mark": {"type": "rule", "color": "black", "strokeWidth": 2.5},
                              "encoding": {"y": {"field": "lo", "type": "quantitative", "title": "Muscle TGDs (mg/g tissue)"}, "y2": {"field": "hi"}}},
                            {"data": {"name": "G_sum"}, "transform": [{"fold": ["lo", "hi"], "as": ["k", "e"]}], "mark": {"type": "tick", "orient": "horizontal", "size": 26, "thickness": 2.5, "color": "black", "opacity": 1},
                              "encoding": {"y": {"field": "e", "type": "quantitative", "title": "Muscle TGDs (mg/g tissue)"}}}
                          ]
                        },
                        {
                          "data": {"name": "G_pts"},
                          "mark": {"type": "point", "filled": true, "color": "black", "opacity": 1, "size": 85},
                          "encoding": {
                            "x": {"field": "g", "type": "nominal", "scale": {"domain": ["Control", "MVC", "RAPA", "MVC+RAPA"]}, "axis": null},
                            "xOffset": {"field": "j", "type": "quantitative", "scale": {"domain": [-3, 3]}},
                            "y": {"field": "v", "type": "quantitative", "title": "Muscle TGDs (mg/g tissue)"},
                            "shape": {"field": "g", "type": "nominal", "scale": {"domain": ["Control", "MVC", "RAPA", "MVC+RAPA"]}, "legend": null}
                          }
                        }
                      ],
                      "resolve": {"scale": {"x": "independent", "xOffset": "independent"}}
                    }
                  ]
                }
              ]
            }
          ]
        }
      ]
    }
  ],
  "columns": 1, "spacing": 58, "align": "none"
}
